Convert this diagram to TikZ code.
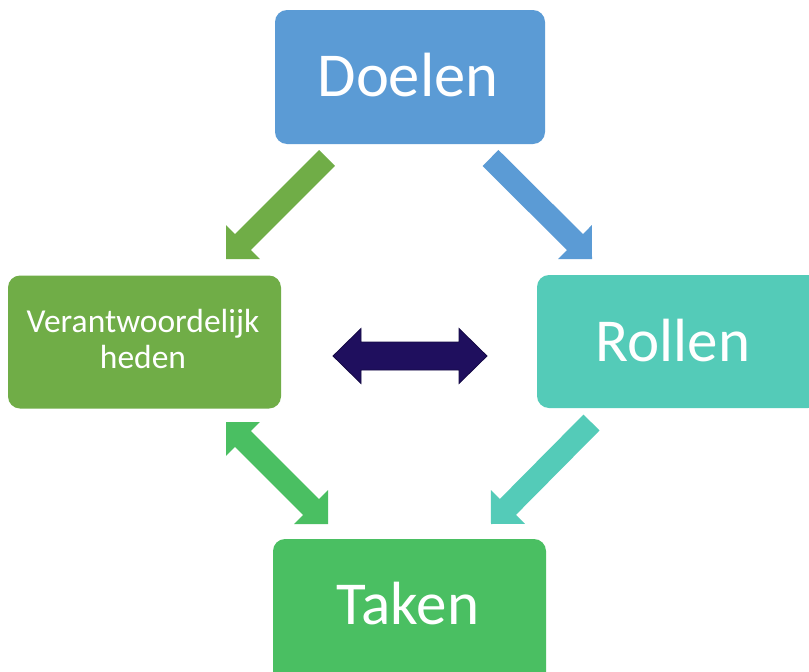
\documentclass[tikz,border=0pt]{standalone}
\usepackage{fontspec}
\setmainfont{Carlito}
\usetikzlibrary{calc}
\definecolor{cblue}{HTML}{5B9BD5}
\definecolor{cgreen}{HTML}{70AD47}
\definecolor{cteal}{HTML}{54CBB8}
\definecolor{ctaken}{HTML}{4ABF62}
\definecolor{cnavy}{HTML}{1F0F5E}
\definecolor{cnavyline}{HTML}{150A45}
\tikzset{
  box/.style={rounded corners=12pt, inner sep=0pt, draw=none},
  lbl/.style={text=white, inner sep=0pt, align=center},
}
% #1 style, #2 start, #3 tip, #4 shaft half width, #5 head half width, #6 head length (all in pt)
\newcommand\blockarr[6]{%
  \coordinate (hb) at ($(#3)!#6pt!(#2)$);
  \fill[#1] ($(#2)!#4pt!90:(#3)$) -- ($(hb)!#4pt!90:(#3)$) -- ($(hb)!#5pt!90:(#3)$) -- (#3)
    -- ($(hb)!#5pt!-90:(#3)$) -- ($(hb)!#4pt!-90:(#3)$) -- ($(#2)!#4pt!-90:(#3)$) -- cycle;
}
% #1 style, #2 tip1, #3 tip2, #4 shaft hw, #5 head hw, #6 head length (all in pt)
\newcommand\dblarr[6]{%
  \coordinate (hb1) at ($(#2)!#6pt!(#3)$);
  \coordinate (hb2) at ($(#3)!#6pt!(#2)$);
  \path[#1] (#2) -- ($(hb1)!#5pt!90:(#3)$) -- ($(hb1)!#4pt!90:(#3)$) -- ($(hb2)!#4pt!-90:(#2)$)
    -- ($(hb2)!#5pt!-90:(#2)$) -- (#3) -- ($(hb2)!#5pt!90:(#2)$) -- ($(hb2)!#4pt!90:(#2)$)
    -- ($(hb1)!#4pt!-90:(#3)$) -- ($(hb1)!#5pt!-90:(#3)$) -- cycle;
}
\begin{document}
\begin{tikzpicture}[x=1pt,y=-1pt]
\useasboundingbox (0,0) rectangle (809,672);
\clip (0,0) rectangle (809,672);
\fill[white] (0,0) rectangle (809,672);
% boxes
\node[box, fill=cblue, minimum width=270pt, minimum height=134pt] (doelen) at (410,77) {};
\node[lbl, font=\fontsize{62.5}{70}\selectfont] (doelenlbl) at (408,75) {Doelen};
\node[box, fill=cgreen, minimum width=273pt, minimum height=133pt] (verant) at (144.5,342) {};
\node[lbl, font=\fontsize{33.5}{36}\selectfont] (verantlbl) at (143,339) {Verantwoordelijk\\heden};
\node[box, fill=cteal, minimum width=283pt, minimum height=133pt] (rollen) at (678.5,341.5) {};
\node[lbl, font=\fontsize{61}{68}\selectfont] (rollenlbl) at (673,341) {Rollen};
\node[box, fill=ctaken, minimum width=273pt, minimum height=150pt] (taken) at (409.5,614) {};
\node[lbl, font=\fontsize{61}{68}\selectfont] (takenlbl) at (408,604) {Taken};
% arrow end points
\coordinate (g1s) at (327,158);   \coordinate (g1t) at (226,259);
\coordinate (b1s) at (490.5,158); \coordinate (b1t) at (592,259);
\coordinate (t1s) at (591.5,422.5); \coordinate (t1t) at (491,524);
\coordinate (d1a) at (226,422);   \coordinate (d1b) at (328,524);
\coordinate (n1a) at (333,356);   \coordinate (n1b) at (487,356);
\blockarr{cgreen}{g1s}{g1t}{11.3}{24}{24}
\blockarr{cblue}{b1s}{b1t}{11.3}{24}{24}
\blockarr{cteal}{t1s}{t1t}{11.3}{24}{24}
\dblarr{fill=ctaken}{d1a}{d1b}{11.3}{24}{24}
\dblarr{fill=cnavy, draw=cnavyline, line width=0.8pt, line join=miter}{n1a}{n1b}{14}{27.5}{28}
\end{tikzpicture}
\end{document}
